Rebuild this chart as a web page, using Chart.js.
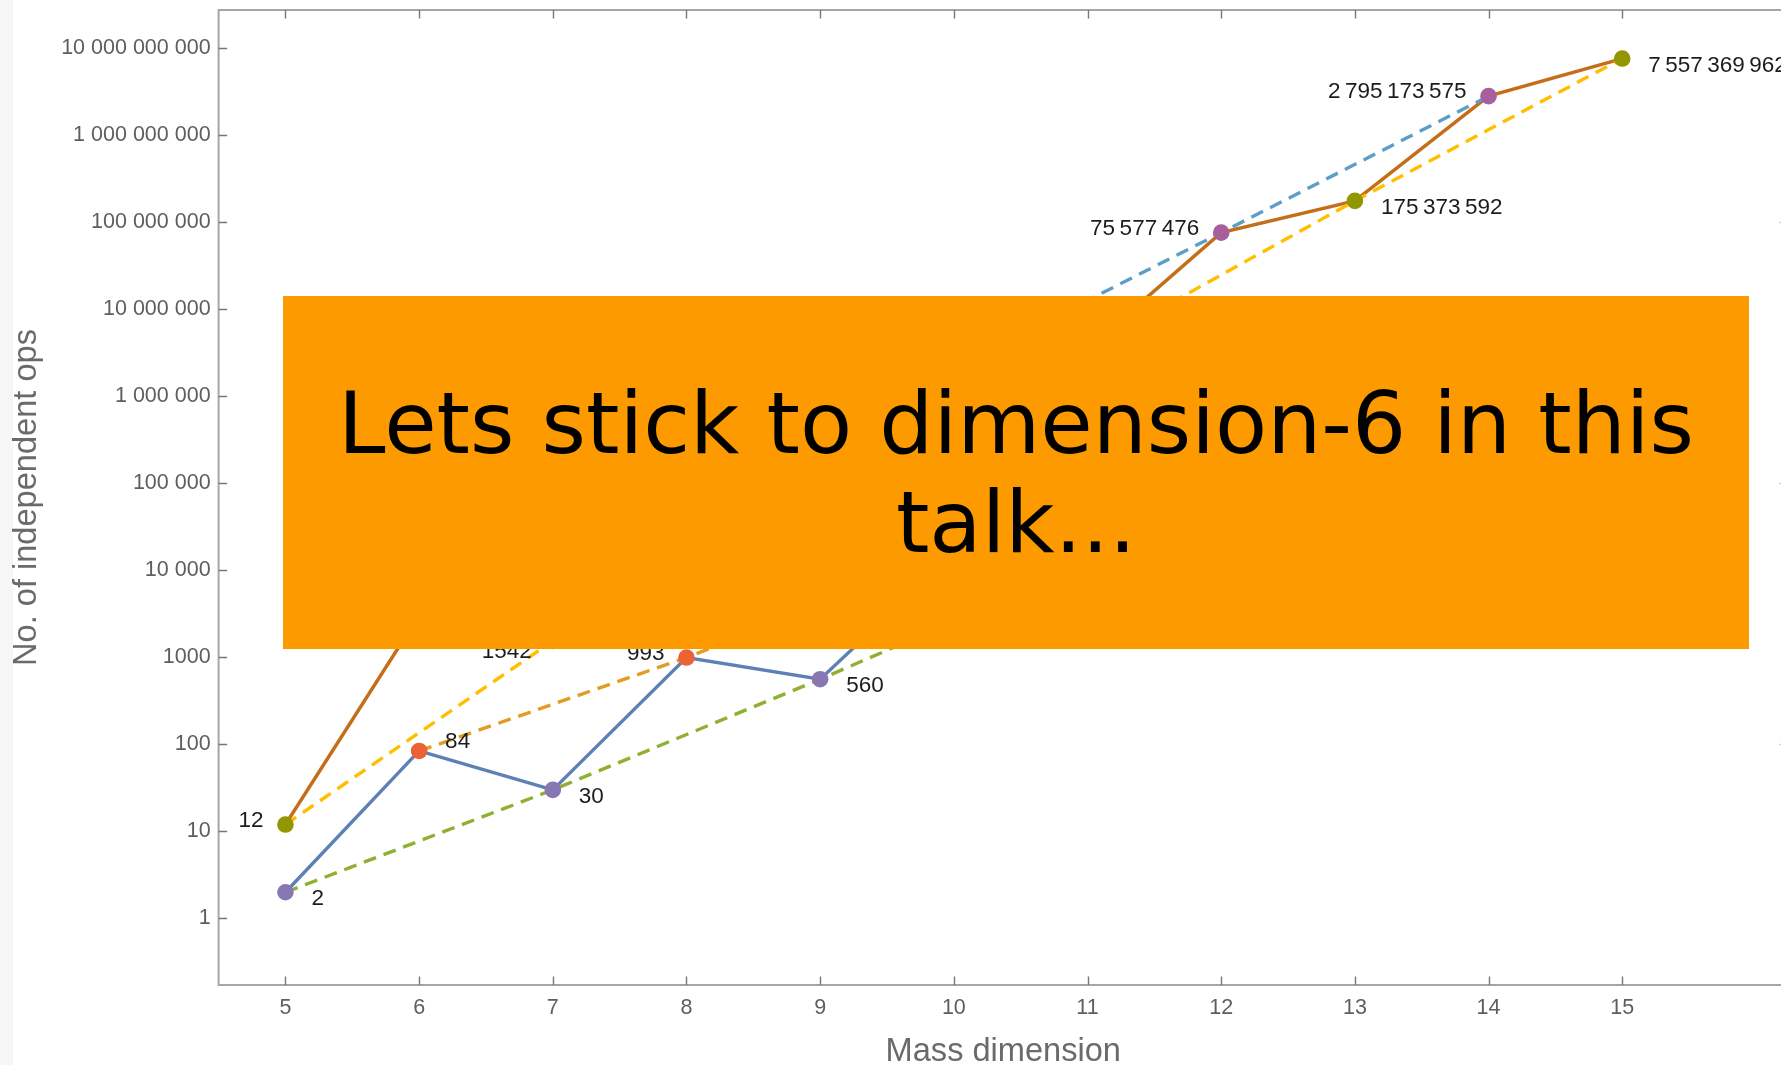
<!DOCTYPE html>
<html>
<head>
<meta charset="utf-8">
<script src="https://cdn.jsdelivr.net/npm/chart.js@4/dist/chart.umd.min.js"></script>
<style>
  html, body { margin: 0; padding: 0; background: #ffffff; overflow: hidden; width: 1781px; height: 1065px; }
  #strip { position: absolute; left: 0; top: 0; width: 13px; height: 1065px; background: #f6f6f6; }
  #wrap { position: absolute; left: 0; top: 0; width: 1800px; height: 1065px; }
  #note { position: absolute; left: 283px; top: 296px; width: 1466px; height: 353px; background: #fd9a00; }
  #note p { position: absolute; left: 0; right: 0; top: 78px; margin: 0;
            font-family: 'DejaVu Sans', sans-serif; font-size: 85.3px; line-height: 99px;
            text-align: center; color: #000000; }
</style>
</head>
<body>
<div id="strip"></div>
<div id="wrap"><canvas id="c" width="1800" height="1065"></canvas></div>
<div id="note"><p>Lets stick to dimension-6 in this<br>talk...</p></div>
<script>
// Operator counts per mass dimension (one and three fermion generations)
const dims = [5, 6, 7, 8, 9, 10, 11, 12, 13, 14, 15];
const opsOneGen = [2, 84, 30, 993, 560, 15456, 11962, 261485, 257378, 4614554, 5474170];
const opsThreeGen = [12, 3045, 1542, 44807, 90456, 2092441, 3472266, 75577476, 175373592, 2795173575, 7557369962];

// Axis ticks
const xTickValues = [5, 6, 7, 8, 9, 10, 11, 12, 13, 14, 15];
const yTickValues = [1, 10, 100, 1e3, 1e4, 1e5, 1e6, 1e7, 1e8, 1e9, 1e10];
const rightTickValues = [1e2, 1e5, 1e8];

// Which side of each point its value label sits on
const sideOneGen = ['rb', 'ra', 'rb', 'l', 'rb', 'l', 'rb', 'l', 'rb', 'l', 'rb'];
const sideThreeGen = ['l', 'l', 'lb', 'l', 'rb', 'l', 'rb', 'l', 'rb', 'l', 'rb'];

const placements = {
  rb: { dx: 26, dy: 7, align: 'left' },
  ra: { dx: 26, dy: -9, align: 'left' },
  l:  { dx: -22, dy: -4, align: 'right' },
  lb: { dx: -21, dy: 11, align: 'right' }
};

const FONT = '"Liberation Sans", Arial, Helvetica, sans-serif';

function groupDigits(v, sep) {
  const s = String(Math.round(v));
  if (s.length <= 4) return s;
  return s.replace(/\B(?=(\d{3})+(?!\d))/g, sep);
}

function allPoints(values) {
  return dims.map((d, i) => ({ x: d, y: values[i] }));
}
function parityPoints(values, parity) {
  return dims.map((d, i) => ({ x: d, y: values[i] })).filter(p => p.x % 2 === parity);
}
function paritySides(sides, parity) {
  return sides.filter((s, i) => dims[i] % 2 === parity);
}

function pointSet(values, sides, parity, color) {
  return {
    data: parityPoints(values, parity),
    sides: paritySides(sides, parity),
    showLine: false,
    pointRadius: 8.3,
    pointHoverRadius: 8.3,
    pointBorderWidth: 0,
    pointBackgroundColor: color,
    backgroundColor: color,
    borderColor: color,
    order: 0
  };
}
function lineSet(data, color, dashed, order) {
  return {
    data: data,
    showLine: true,
    borderColor: color,
    backgroundColor: color,
    borderWidth: 3.4,
    borderDash: dashed ? [13, 8] : [],
    pointRadius: 0,
    pointHoverRadius: 0,
    tension: 0,
    fill: false,
    order: order
  };
}

const datasets = [
  pointSet(opsThreeGen, sideThreeGen, 1, '#929600'),
  pointSet(opsThreeGen, sideThreeGen, 0, '#A5609D'),
  pointSet(opsOneGen, sideOneGen, 1, '#8778B3'),
  pointSet(opsOneGen, sideOneGen, 0, '#EB6235'),
  lineSet(parityPoints(opsThreeGen, 1), '#FFBF00', true, 1),
  lineSet(parityPoints(opsThreeGen, 0), '#5D9EC7', true, 1),
  lineSet(allPoints(opsThreeGen), '#C56E1A', false, 1),
  lineSet(parityPoints(opsOneGen, 1), '#8FB032', true, 2),
  lineSet(parityPoints(opsOneGen, 0), '#E19C24', true, 2),
  lineSet(allPoints(opsOneGen), '#5E81B5', false, 2)
];

// Frame around the plot with inward-pointing ticks on every side
const framePlugin = {
  id: 'frame',
  beforeDatasetsDraw(chart) {
    const { ctx, chartArea: a, scales } = chart;
    const x = scales.x, y = scales.y;
    ctx.save();
    ctx.strokeStyle = '#a6a6a6';
    ctx.lineWidth = 2;
    ctx.strokeRect(a.left, a.top, a.right - a.left, a.bottom - a.top);
    ctx.strokeStyle = '#777777';
    ctx.lineWidth = 1.4;
    ctx.beginPath();
    xTickValues.forEach(v => {
      const px = Math.round(x.getPixelForValue(v)) + 0.5;
      ctx.moveTo(px, a.bottom); ctx.lineTo(px, a.bottom - 8.5);
      ctx.moveTo(px, a.top); ctx.lineTo(px, a.top + 8.5);
    });
    yTickValues.forEach(v => {
      const py = Math.round(y.getPixelForValue(v)) + 0.5;
      ctx.moveTo(a.left, py); ctx.lineTo(a.left + 8.5, py);
    });
    ctx.stroke();
    ctx.strokeStyle = '#c8c8c8';
    ctx.beginPath();
    rightTickValues.forEach(v => {
      const py = Math.round(y.getPixelForValue(v)) + 0.5;
      ctx.moveTo(a.right, py); ctx.lineTo(a.right - 8.5, py);
    });
    ctx.stroke();
    ctx.restore();
  }
};

// Value labels next to every marker
const calloutPlugin = {
  id: 'callouts',
  afterDatasetsDraw(chart) {
    const ctx = chart.ctx;
    ctx.save();
    ctx.font = '22.5px ' + FONT;
    ctx.fillStyle = '#1c1c1c';
    ctx.textBaseline = 'middle';
    chart.data.datasets.forEach((ds, i) => {
      if (!ds.sides) return;
      const meta = chart.getDatasetMeta(i);
      meta.data.forEach((pt, j) => {
        const p = placements[ds.sides[j]];
        ctx.textAlign = p.align;
        ctx.fillText(groupDigits(ds.data[j].y, '\u2009'), pt.x + p.dx, pt.y + p.dy);
      });
    });
    ctx.restore();
  }
};

new Chart(document.getElementById('c'), {
  type: 'scatter',
  data: { datasets: datasets },
  options: {
    responsive: false,
    devicePixelRatio: 1,
    animation: false,
    events: [],
    layout: { padding: { left: 0, top: 10, right: 12, bottom: 0 } },
    plugins: { legend: { display: false }, tooltip: { enabled: false } },
    scales: {
      x: {
        type: 'linear',
        min: 4.5,
        max: 16.24,
        bounds: 'data',
        grid: { display: false, drawTicks: false },
        border: { display: false },
        afterBuildTicks: s => { s.ticks = xTickValues.map(v => ({ value: v })); },
        afterFit: s => { s.height = 80; s.paddingLeft = 0; s.paddingRight = 0; },
        ticks: {
          autoSkip: false, maxRotation: 0, padding: 10,
          color: '#5e5e5e',
          font: { family: FONT, size: 21.5 },
          callback: v => String(v)
        },
        title: {
          display: true, text: 'Mass dimension', color: '#6a6a6a',
          font: { family: FONT, size: 32.6, lineHeight: 0.8 },
          padding: 0
        }
      },
      y: {
        type: 'logarithmic',
        min: 0.172,
        max: 2.73e10,
        bounds: 'data',
        grid: { display: false, drawTicks: false },
        border: { display: false },
        afterBuildTicks: s => { s.ticks = yTickValues.map(v => ({ value: v })); },
        afterFit: s => { s.width = 218.6; s.paddingTop = 0; s.paddingBottom = 0; },
        ticks: {
          autoSkip: false, padding: 8,
          color: '#5e5e5e',
          font: { family: FONT, size: 21.5 },
          callback: v => groupDigits(v, ' ')
        },
        title: {
          display: true, text: 'No. of independent ops', color: '#6a6a6a',
          font: { family: FONT, size: 32.6, lineHeight: 1.2 },
          padding: { top: 7.6, bottom: 0 }
        }
      }
    }
  },
  plugins: [framePlugin, calloutPlugin]
});
</script>
</body>
</html>
